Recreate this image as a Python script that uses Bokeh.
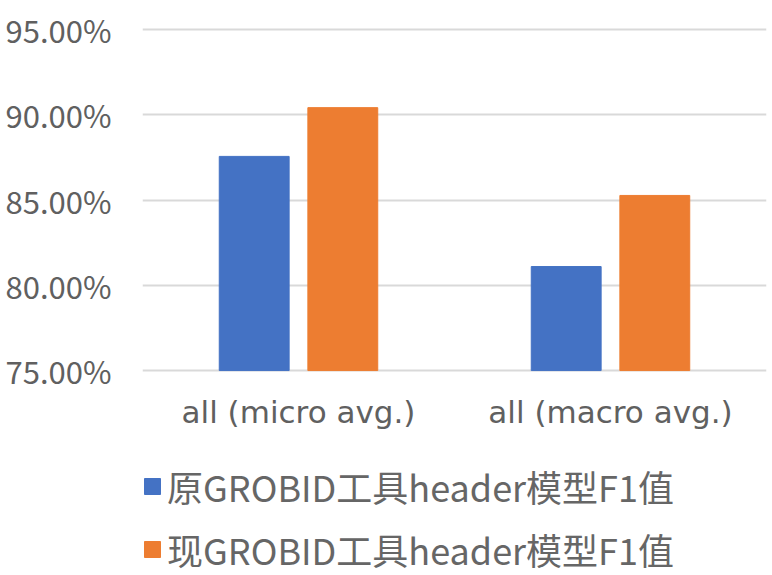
from bokeh.plotting import figure
from bokeh.models import (FactorRange, Range1d, FixedTicker, PrintfTickFormatter,
                          Legend, LegendItem, ColumnDataSource)
from bokeh.transform import dodge
from bokeh.embed import file_html
from bokeh.resources import INLINE

categories = ["all (micro avg.)", "all (macro avg.)"]
series_names = ["原GROBID工具header模型F1值", "现GROBID工具header模型F1值"]
old_f1 = [87.56, 81.10]
new_f1 = [90.42, 85.27]
y_ticks = [75, 80, 85, 90, 95]
colors = ["#4472C4", "#ED7D31"]

src = ColumnDataSource(dict(cat=categories, old=old_f1, new=new_f1))

# the frame reaches the page bottom so that the legend can sit under the axis
p = figure(x_range=FactorRange(*categories), y_range=Range1d(62.98, 95.12),
           width=772, height=575, output_backend="svg", toolbar_location=None,
           min_border_left=142, min_border_right=6, min_border_top=27,
           min_border_bottom=0)
p.outline_line_color = None

r1 = p.vbar(x=dodge("cat", -0.142, range=p.x_range), top="old", bottom=75,
            width=0.224, color=colors[0], source=src)
r2 = p.vbar(x=dodge("cat", 0.142, range=p.x_range), top="new", bottom=75,
            width=0.224, color=colors[1], source=src)

p.xgrid.grid_line_color = None
p.ygrid.grid_line_color = "#d9d9d9"
p.ygrid.grid_line_width = 2

p.yaxis.ticker = FixedTicker(ticks=y_ticks)
p.yaxis.formatter = PrintfTickFormatter(format="%.2f%%")
for ax in (p.xaxis[0], p.yaxis[0]):
    ax.axis_line_color = None
    ax.major_tick_line_color = None
    ax.minor_tick_line_color = None
    ax.major_tick_out = 0
    ax.major_tick_in = 0
    ax.major_label_text_color = "#606060"

p.yaxis.major_label_text_font = "Noto Sans CJK SC"
p.yaxis.major_label_text_font_size = "31px"
p.yaxis.major_label_standoff = 31

p.xaxis.fixed_location = y_ticks[0]
p.xaxis.major_label_text_font = "DejaVu Sans"
p.xaxis.major_label_text_font_size = "31px"
p.xaxis.major_label_standoff = 23

legend = Legend(items=[LegendItem(label=series_names[0], renderers=[r1]),
                       LegendItem(label=series_names[1], renderers=[r2])],
                location=(0, 0), padding=0, margin=0, spacing=11,
                glyph_width=20, glyph_height=20, label_standoff=5,
                label_text_font="Noto Sans CJK SC", label_text_font_size="36px",
                label_text_color="#666666", border_line_color=None,
                background_fill_alpha=0)
p.add_layout(legend)

open("out.html", "w").write(file_html(p, INLINE))
